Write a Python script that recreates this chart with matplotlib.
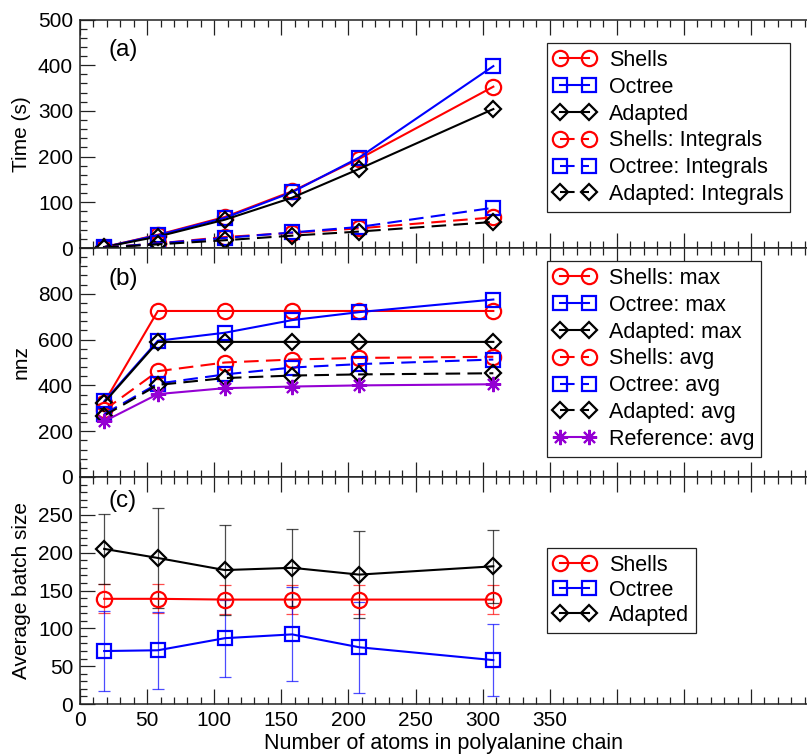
import matplotlib
matplotlib.use("Agg")
import matplotlib.pyplot as plt
from matplotlib.ticker import MultipleLocator, FuncFormatter

plt.rcParams['font.family'] = ['Liberation Sans', 'DejaVu Sans']
plt.rcParams['font.size'] = 15

# x positions (number of atoms)
natoms = [18, 58, 108, 158, 208, 308]

# (a) timings in seconds
time_shells = [2, 29, 68, 124, 195, 353]
time_octree = [2, 28, 66, 122, 198, 398]
time_adapted = [2, 25, 62, 110, 173, 304]
int_shells = [1, 10, 24, 33, 43, 67]
int_octree = [1, 10, 22, 34, 46, 88]
int_adapted = [1, 8, 17, 27, 36, 57]

# (b) nnz
max_shells = [325, 725, 725, 725, 725, 725]
max_octree = [330, 595, 630, 685, 720, 775]
max_adapted = [325, 590, 590, 590, 590, 590]
avg_shells = [292, 462, 500, 513, 520, 525]
avg_octree = [275, 408, 448, 478, 493, 513]
avg_adapted = [268, 402, 432, 443, 448, 453]
avg_reference = [243, 362, 388, 395, 400, 405]

# (c) average batch size with std
batch_shells = [139, 139, 138, 138, 138, 138]
batch_shells_err = [19, 19, 19, 19, 19, 19]
batch_octree = [70, 71, 87, 92, 75, 58]
batch_octree_err = [53, 51, 51, 62, 60, 48]
batch_adapted = [205, 193, 177, 180, 171, 182]
batch_adapted_err = [46, 66, 59, 51, 57, 48]

RED = '#ff0000'
BLUE = '#0000ff'
BLACK = '#000000'
VIOLET = '#9400d3'
DASH = (0, (7, 3.5))

sty = {
    'shells': dict(color=RED, marker='o', ms=11),
    'octree': dict(color=BLUE, marker='s', ms=10.5),
    'adapted': dict(color=BLACK, marker='D', ms=8.5),
}


def draw(ax, x, y, key, label, ls='-'):
    s = sty[key]
    ax.plot(x, y, ls=ls, lw=1.5, color=s['color'], marker=s['marker'], ms=s['ms'],
            mfc='none', mec=s['color'], mew=1.6, clip_on=False, label=label, zorder=3)


fig = plt.figure(figsize=(8.07, 7.55), dpi=100)
left = 80 / 807
width = 1 - left
ax_a = fig.add_axes([left, 1 - 248 / 755, width, 228.5 / 755])
ax_b = fig.add_axes([left, 1 - 477 / 755, width, 229 / 755])
ax_c = fig.add_axes([left, 1 - 704 / 755, width, 227 / 755])

xmax = 727 / 1.342

for ax in (ax_a, ax_b, ax_c):
    ax.set_xlim(0, xmax)
    ax.xaxis.set_major_locator(MultipleLocator(50))
    ax.xaxis.set_minor_locator(MultipleLocator(10))
    ax.tick_params(which='both', direction='in', top=True, bottom=True,
                   right=False, width=0.9, color='#222222')
    ax.tick_params(which='major', length=10.5, pad=5)
    ax.tick_params(which='minor', length=5)
    ax.spines['right'].set_visible(False)
    for sp in ('left', 'top', 'bottom'):
        ax.spines[sp].set_linewidth(1.1)
        ax.spines[sp].set_color('#222222')

ax_a.tick_params(labelbottom=False)
ax_b.tick_params(labelbottom=False)
ax_c.xaxis.set_major_formatter(FuncFormatter(lambda v, p: '%d' % v if v <= 350 else ''))

# (a)
draw(ax_a, natoms, time_shells, 'shells', 'Shells')
draw(ax_a, natoms, time_octree, 'octree', 'Octree')
draw(ax_a, natoms, time_adapted, 'adapted', 'Adapted')
draw(ax_a, natoms, int_shells, 'shells', 'Shells: Integrals', DASH)
draw(ax_a, natoms, int_octree, 'octree', 'Octree: Integrals', DASH)
draw(ax_a, natoms, int_adapted, 'adapted', 'Adapted: Integrals', DASH)
ax_a.set_ylim(0, 500)
ax_a.yaxis.set_major_locator(MultipleLocator(100))
ax_a.yaxis.set_minor_locator(MultipleLocator(20))
ax_a.set_ylabel('Time (s)', labelpad=5)

# (b)
draw(ax_b, natoms, max_shells, 'shells', 'Shells: max')
draw(ax_b, natoms, max_octree, 'octree', 'Octree: max')
draw(ax_b, natoms, max_adapted, 'adapted', 'Adapted: max')
draw(ax_b, natoms, avg_shells, 'shells', 'Shells: avg', DASH)
draw(ax_b, natoms, avg_octree, 'octree', 'Octree: avg', DASH)
draw(ax_b, natoms, avg_adapted, 'adapted', 'Adapted: avg', DASH)
ax_b.plot(natoms, avg_reference, '-', lw=1.5, color=VIOLET, marker=(8, 2, 0), ms=11,
          mew=1.5, clip_on=False, label='Reference: avg', zorder=3)
ax_b.set_ylim(0, 1000)
ax_b.set_yticks([0, 200, 400, 600, 800, 1000], ['0', '200', '400', '600', '800', ''])
ax_b.yaxis.set_minor_locator(MultipleLocator(40))
ax_b.set_ylabel('nnz', labelpad=5)

# (c)
for y, e, key in ((batch_shells, batch_shells_err, 'shells'),
                  (batch_octree, batch_octree_err, 'octree'),
                  (batch_adapted, batch_adapted_err, 'adapted')):
    ax_c.errorbar(natoms, y, yerr=e, fmt='none', ecolor=sty[key]['color'],
                  elinewidth=0.9, capsize=4.5, capthick=0.9, alpha=0.7, zorder=2)
draw(ax_c, natoms, batch_shells, 'shells', 'Shells')
draw(ax_c, natoms, batch_octree, 'octree', 'Octree')
draw(ax_c, natoms, batch_adapted, 'adapted', 'Adapted')
ax_c.set_ylim(0, 300)
ax_c.set_yticks([0, 50, 100, 150, 200, 250, 300], ['0', '50', '100', '150', '200', '250', ''])
ax_c.yaxis.set_minor_locator(MultipleLocator(10))
ax_c.set_ylabel('Average batch size', labelpad=5)
ax_c.set_xlabel('Number of atoms in polyalanine chain', fontsize=15.5, labelpad=2)

leg_kw = dict(loc='upper left', borderaxespad=0, numpoints=2, handlelength=1.94,
              handletextpad=0.6, borderpad=0.32, fancybox=False,
              edgecolor='#222222', framealpha=1, fontsize=15.5)
for ax, top, spacing in ((ax_a, 1 - (43 - 19.5) / 228.5, 0.27),
                         (ax_b, 1 - (261 - 248) / 229, 0.27),
                         (ax_c, 1 - (548 - 477) / 227, 0.18)):
    lg = ax.legend(bbox_to_anchor=(467 / 727, top), labelspacing=spacing, **leg_kw)
    lg.get_frame().set_linewidth(0.9)

for ax, lab, yy in ((ax_a, '(a)', 0.866), (ax_b, '(b)', 0.865), (ax_c, '(c)', 0.894)):
    ax.text(29 / 727, yy, lab, transform=ax.transAxes, fontsize=17.5, ha='left', va='center')

fig.savefig('out.png', dpi=100)
